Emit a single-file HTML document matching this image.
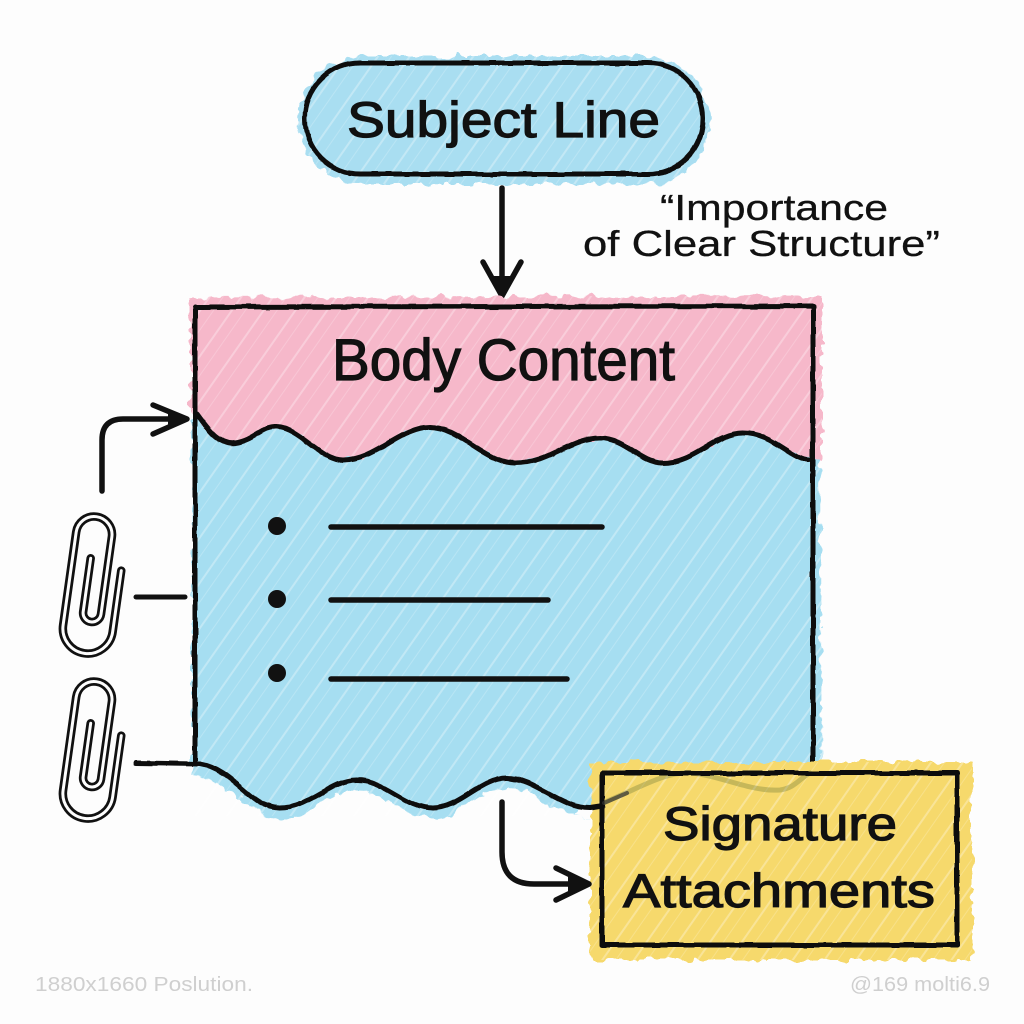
<!DOCTYPE html>
<html>
<head>
<meta charset="utf-8">
<style>
  html,body{margin:0;padding:0;background:#fdfdfd;}
  svg{display:block;}
  .lbl{font-family:"Liberation Sans","DejaVu Sans",sans-serif;fill:#111;stroke:#111;stroke-width:1.2;}
  .q{font-family:"Liberation Sans","DejaVu Sans",sans-serif;fill:#111;stroke:#111;stroke-width:0.3;}
  .wm{font-family:"Liberation Sans","DejaVu Sans",sans-serif;fill:#cfcfcf;}
</style>
</head>
<body>
<svg width="1024" height="1024" viewBox="0 0 1024 1024" xmlns="http://www.w3.org/2000/svg">
  <defs>
    <filter id="rough" x="-5%" y="-5%" width="110%" height="110%">
      <feTurbulence type="fractalNoise" baseFrequency="0.09" numOctaves="2" seed="4" result="n"/>
      <feDisplacementMap in="SourceGraphic" in2="n" scale="12" xChannelSelector="R" yChannelSelector="G"/>
    </filter>
    <filter id="rough2" x="-5%" y="-5%" width="110%" height="110%">
      <feTurbulence type="fractalNoise" baseFrequency="0.05" numOctaves="2" seed="9" result="n"/>
      <feDisplacementMap in="SourceGraphic" in2="n" scale="3" xChannelSelector="R" yChannelSelector="G"/>
    </filter>
    <pattern id="hatch" width="26" height="26" patternUnits="userSpaceOnUse" patternTransform="rotate(35)">
      <line x1="4" y1="0" x2="4" y2="26" stroke="#ffffff" stroke-width="2" stroke-opacity="0.3"/>
      <line x1="15" y1="0" x2="15" y2="26" stroke="#ffffff" stroke-width="1" stroke-opacity="0.2"/>
    </pattern>
  </defs>

  <rect width="1024" height="1024" fill="#fdfdfd"/>

  <!-- Subject pill -->
  <rect x="298" y="56" width="412" height="128" rx="64" fill="#a9def1" filter="url(#rough)"/>
  <rect x="298" y="56" width="412" height="128" rx="64" fill="url(#hatch)"/>
  <rect x="305" y="63" width="398" height="111" rx="55" fill="none" stroke="#111" stroke-width="5" filter="url(#rough2)"/>
  <text class="lbl" x="347" y="137" font-size="50" textLength="313" lengthAdjust="spacingAndGlyphs">Subject Line</text>

  <!-- Arrow subject -> body -->
  <g stroke="#111" stroke-width="5.5" fill="none" stroke-linecap="round" stroke-linejoin="round">
    <line x1="502" y1="188" x2="502" y2="292"/>
    <path d="M483 262 L502 296 L521 262"/>
  </g>
  <path d="M489 276 L502 299 L515 276 Z" fill="#111"/>

  <!-- Quote -->
  <text class="q" x="660" y="220" font-size="36" textLength="228" lengthAdjust="spacingAndGlyphs">“Importance</text>
  <text class="q" x="583" y="256" font-size="36" textLength="357" lengthAdjust="spacingAndGlyphs">of Clear Structure”</text>

  <!-- Body fills -->
  <path d="M190 298 L822 296 L822 462 C 790 460, 775 433, 743 433 C 715 433, 695 463, 663 463 C 640 463, 625 438, 600 438 C 570 438, 550 463, 515 463 C 485 463, 460 427, 430 427 C 400 427, 375 460, 343 460 C 320 460, 300 428, 277 427 C 262 426, 255 440, 235 443 C 220 445, 210 432, 190 414 Z" fill="#f6b8ca" filter="url(#rough)"/>
  <path d="M192 412 C 210 432, 220 445, 235 443 C 255 440, 262 426, 277 427 C 300 428, 320 460, 343 460 C 375 460, 400 427, 430 427 C 460 427, 485 463, 515 463 C 550 463, 570 438, 600 438 C 625 438, 640 463, 663 463 C 695 463, 715 433, 743 433 C 775 433, 790 460, 820 460 L 822 790 L 600 800 C 570 818, 560 815, 590 818 C 560 818, 535 788, 507 788 C 480 788, 460 818, 433 818 C 405 818, 385 790, 357 790 C 330 790, 310 818, 280 818 C 250 818, 230 780, 192 775 Z" fill="#a6def1" filter="url(#rough)"/>
  <rect x="190" y="296" width="632" height="520" fill="url(#hatch)"/>

  <!-- Body outline -->
  <g stroke="#111" stroke-width="5" fill="none" stroke-linecap="round" stroke-linejoin="round" filter="url(#rough2)">
    <path d="M195 763 L195 307 L813 306 L813 772"/>
    <path d="M197 414 C 210 432, 220 445, 235 443 C 255 440, 262 426, 277 427 C 300 428, 320 460, 343 460 C 375 460, 400 427, 430 427 C 460 427, 485 463, 515 463 C 550 463, 570 438, 600 438 C 625 438, 640 463, 663 463 C 695 463, 715 433, 743 433 C 775 433, 790 460, 812 460"/>
  </g>

  <text class="lbl" x="332" y="380" font-size="58" textLength="343" lengthAdjust="spacingAndGlyphs">Body Content</text>

  <!-- Bullets -->
  <g fill="#111">
    <circle cx="277" cy="526" r="9"/>
    <circle cx="277" cy="599" r="9"/>
    <circle cx="277" cy="673" r="9"/>
  </g>
  <g stroke="#111" stroke-width="5.5" stroke-linecap="round">
    <line x1="331" y1="527" x2="602" y2="527"/>
    <line x1="331" y1="600" x2="548" y2="600"/>
    <line x1="331" y1="679" x2="567" y2="679"/>
  </g>

  <!-- Signature box fill -->
  <rect x="590" y="762" width="382" height="198" fill="#f6d96c" filter="url(#rough)"/>
  <rect x="590" y="762" width="382" height="198" fill="url(#hatch)"/>
  <path d="M603 803 L628 792 C 650 782, 670 772, 690 773 C 720 775, 750 792, 780 790 C 795 788, 800 778, 810 773" stroke="#556b2f" stroke-opacity="0.3" stroke-width="5" fill="none" stroke-linecap="round"/>

  <!-- Bottom wave + left tick + signature outline -->
  <g stroke="#111" stroke-width="5" fill="none" stroke-linecap="round" stroke-linejoin="round" filter="url(#rough2)">
    <path d="M136 763 L200 764 C 235 770, 250 808, 280 808 C 310 808, 330 780, 357 780 C 385 780, 405 808, 433 808 C 460 808, 480 778, 507 778 C 535 778, 560 808, 590 808 L603 806"/>
    <rect x="602" y="773" width="355" height="172"/>
  </g>
  <path d="M604 803 L627 793" stroke="#333" stroke-width="4" stroke-linecap="round" opacity="0.7"/>

  <text class="lbl" x="663" y="840" font-size="47" textLength="234" lengthAdjust="spacingAndGlyphs">Signature</text>
  <text class="lbl" x="623" y="907" font-size="47" textLength="312" lengthAdjust="spacingAndGlyphs">Attachments</text>

  <!-- Arrow body -> signature -->
  <g stroke="#111" stroke-width="5.5" fill="none" stroke-linecap="round" stroke-linejoin="round">
    <path d="M502 802 L502 852 Q502 884 534 884 L586 884"/>
    <path d="M556 868 L589 884 L556 900"/>
  </g>
  <path d="M568 873 L591 884 L568 895 Z" fill="#111"/>

  <!-- Left arrow -->
  <g stroke="#111" stroke-width="5.5" fill="none" stroke-linecap="round" stroke-linejoin="round">
    <path d="M102 491 L102 440 Q102 419 123 419 L183 419"/>
    <path d="M153 405 L187 419 L153 434"/>
  </g>
  <path d="M168 410 L189 419 L168 428 Z" fill="#111"/>

  <!-- Tick line -->
  <line x1="136" y1="597" x2="185" y2="597" stroke="#111" stroke-width="5" stroke-linecap="round"/>

  <!-- Paperclips -->
  <g transform="translate(94,585) rotate(8) translate(-25,-70)">
    <path d="M18 44 L18 98 A 9 9 0 0 0 36 98 L36 20 A 18 18 0 0 0 0 20 L0 114 A 25 25 0 0 0 50 114 L50 52" fill="none" stroke="#111" stroke-width="8.5" stroke-linecap="round"/>
    <path d="M18 44 L18 98 A 9 9 0 0 0 36 98 L36 20 A 18 18 0 0 0 0 20 L0 114 A 25 25 0 0 0 50 114 L50 52" fill="none" stroke="#fdfdfd" stroke-width="3" stroke-linecap="round"/>
  </g>
  <g transform="translate(94,750) rotate(8) translate(-25,-70)">
    <path d="M18 44 L18 98 A 9 9 0 0 0 36 98 L36 20 A 18 18 0 0 0 0 20 L0 114 A 25 25 0 0 0 50 114 L50 52" fill="none" stroke="#111" stroke-width="8.5" stroke-linecap="round"/>
    <path d="M18 44 L18 98 A 9 9 0 0 0 36 98 L36 20 A 18 18 0 0 0 0 20 L0 114 A 25 25 0 0 0 50 114 L50 52" fill="none" stroke="#fdfdfd" stroke-width="3" stroke-linecap="round"/>
  </g>

  <!-- Watermarks -->
  <text class="wm" x="35" y="991" font-size="20" textLength="218" lengthAdjust="spacingAndGlyphs">1880x1660 Poslution.</text>
  <text class="wm" x="850" y="991" font-size="20" textLength="140" lengthAdjust="spacingAndGlyphs">@169 molti6.9</text>
</svg>
</body>
</html>
